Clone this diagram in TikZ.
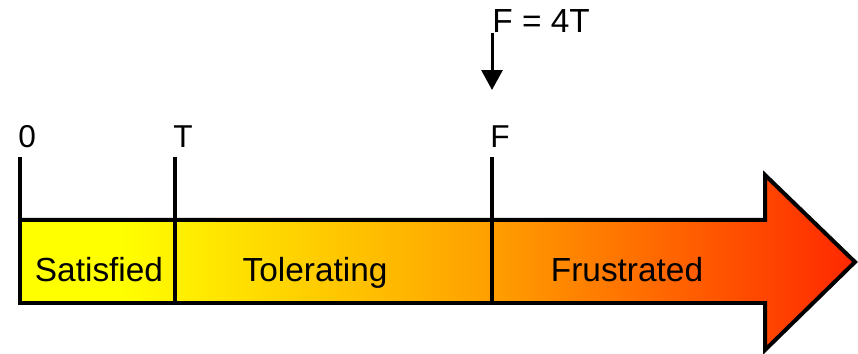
\documentclass[tikz,border=0pt]{standalone}
\usepackage{fontspec}
\setmainfont{Liberation Sans}
\usetikzlibrary{arrows.meta}

\definecolor{barYellow}{RGB}{255,255,0}
\definecolor{barOrange}{RGB}{255,160,0}
\definecolor{barRed}{RGB}{255,40,0}
\pgfdeclarehorizontalshading{ramp}{100bp}{color(0bp)=(barYellow); color(31bp)=(barYellow); color(53bp)=(barOrange); color(75bp)=(barRed); color(100bp)=(barRed)}

\begin{document}
\begin{tikzpicture}[
    x=0.02cm, y=-0.02cm,
    every node/.style={font=\fontsize{19}{22}\selectfont, inner sep=0pt},
    band/.style={draw, line width=0.08cm, shade, shading=ramp},
    tick/.style={draw, line width=0.07cm},
    pointer/.style={line width=0.06cm, -{Triangle[length=0.4cm, width=0.42cm]}},
    ticklabel/.style={anchor=base west, font=\fontsize{18}{21}\selectfont},
    zone/.style={anchor=base}
]
\useasboundingbox (0,0) rectangle (858,354);

% Draw the arrow band
\draw[band] (20,220) -- (765,220) -- (765,175) -- (855,262) -- (765,350) -- (765,303) -- (20,303) -- cycle;

% Tick marks and their labels
\node[ticklabel] (zero) at (18,148) {0};
\node[ticklabel] (tee) at (173,148) {T};
\node[ticklabel] (eff) at (490,148) {F};

\coordinate (zeroTop) at (20,157);
\coordinate (zeroBar) at (20,220);
\coordinate (teeTop) at (175,157);
\coordinate (teeBar) at (175,303);
\coordinate (effTop) at (492,157);
\coordinate (effBar) at (492,303);

\draw[tick] (zeroTop) -- (zeroBar);
\draw[tick] (teeTop) -- (teeBar);
\draw[tick] (effTop) -- (effBar);

% Zone names
\node[zone] (sat) at (99,282) {Satisfied};
\node[zone] (tol) at (315,282) {Tolerating};
\node[zone] (fru) at (627,282) {Frustrated};

% Threshold note
\node[anchor=base west] (note) at (492,33) {F = 4T};
\coordinate (noteTip) at (492,90);
\draw[pointer] (note.south west) -- (noteTip);

\end{tikzpicture}
\end{document}
